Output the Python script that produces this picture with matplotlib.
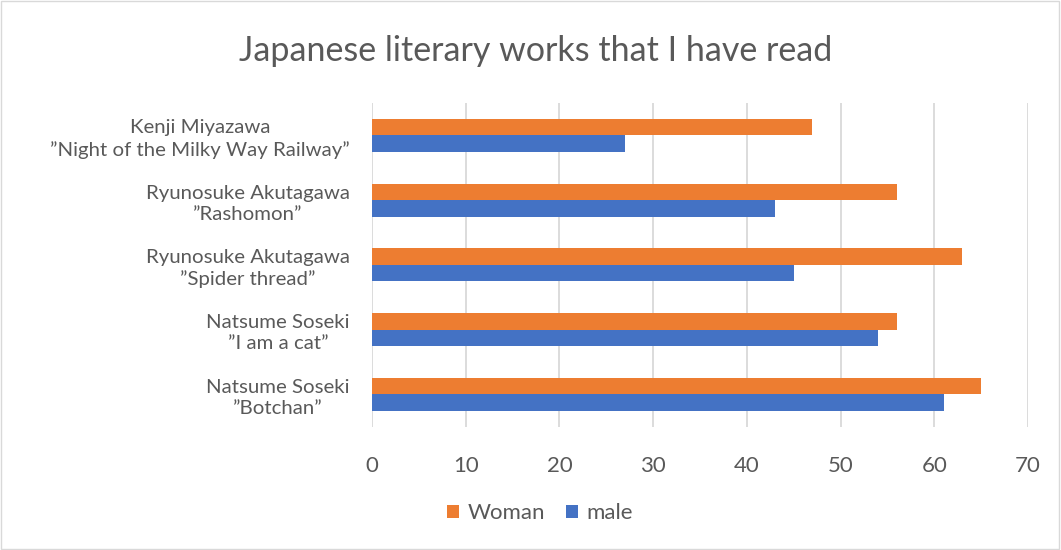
import matplotlib.pyplot as plt
import numpy as np
from matplotlib.patches import Rectangle

# Data (bottom to top, as drawn)
categories = [
    'Natsume Soseki\n\u201dBotchan\u201d',
    'Natsume Soseki\n\u201dI am a cat\u201d',
    'Ryunosuke Akutagawa\n\u201dSpider thread\u201d',
    'Ryunosuke Akutagawa\n\u201dRashomon\u201d',
    'Kenji Miyazawa\n\u201dNight of the Milky Way Railway\u201d',
]
woman = [65, 56, 63, 56, 47]
male = [61, 54, 45, 43, 27]
x_ticks = [0, 10, 20, 30, 40, 50, 60, 70]

plt.rcParams['font.family'] = ['Lato', 'DejaVu Sans']
text_color = '#595959'
orange = '#ED7D31'
blue = '#4472C4'

fig = plt.figure(figsize=(10.61, 5.5), dpi=100)
ax = fig.add_axes([0.3506, 0.224, 0.6183, 0.589])

y = np.arange(len(categories))
h = 0.255
ax.barh(y + h / 2, woman, height=h, color=orange, label='Woman', zorder=3)
ax.barh(y - h / 2, male, height=h, color=blue, label='male', zorder=3)

ax.set_xlim(0, 70)
ax.set_ylim(-0.5, 4.5)
ax.set_xticks(x_ticks)
ax.set_yticks(y)
ax.set_yticklabels(categories, multialignment='center', linespacing=1.3)
ax.tick_params(axis='y', length=0, pad=16, labelsize=14.7, labelcolor=text_color)
ax.tick_params(axis='x', length=0, pad=21, labelsize=16, labelcolor=text_color)
ax.grid(axis='x', color='#D9D9D9', linewidth=1.3, zorder=0)
for s in ax.spines.values():
    s.set_visible(False)

fig.text(0.505, 0.907, 'Japanese literary works that I have read',
         ha='center', va='center', fontsize=24.5, color=text_color)

leg = fig.legend(loc='center', bbox_to_anchor=(0.509, 0.067), ncol=2, frameon=False,
                 fontsize=16, handlelength=0.55, handleheight=0.55,
                 handletextpad=0.4, columnspacing=0.9)
for t in leg.get_texts():
    t.set_color(text_color)

fig.patches.append(Rectangle((0.001, 0.002), 0.997, 0.996, transform=fig.transFigure,
                             fill=False, edgecolor='#D9D9D9', linewidth=1))

fig.savefig('out.png', dpi=100)
